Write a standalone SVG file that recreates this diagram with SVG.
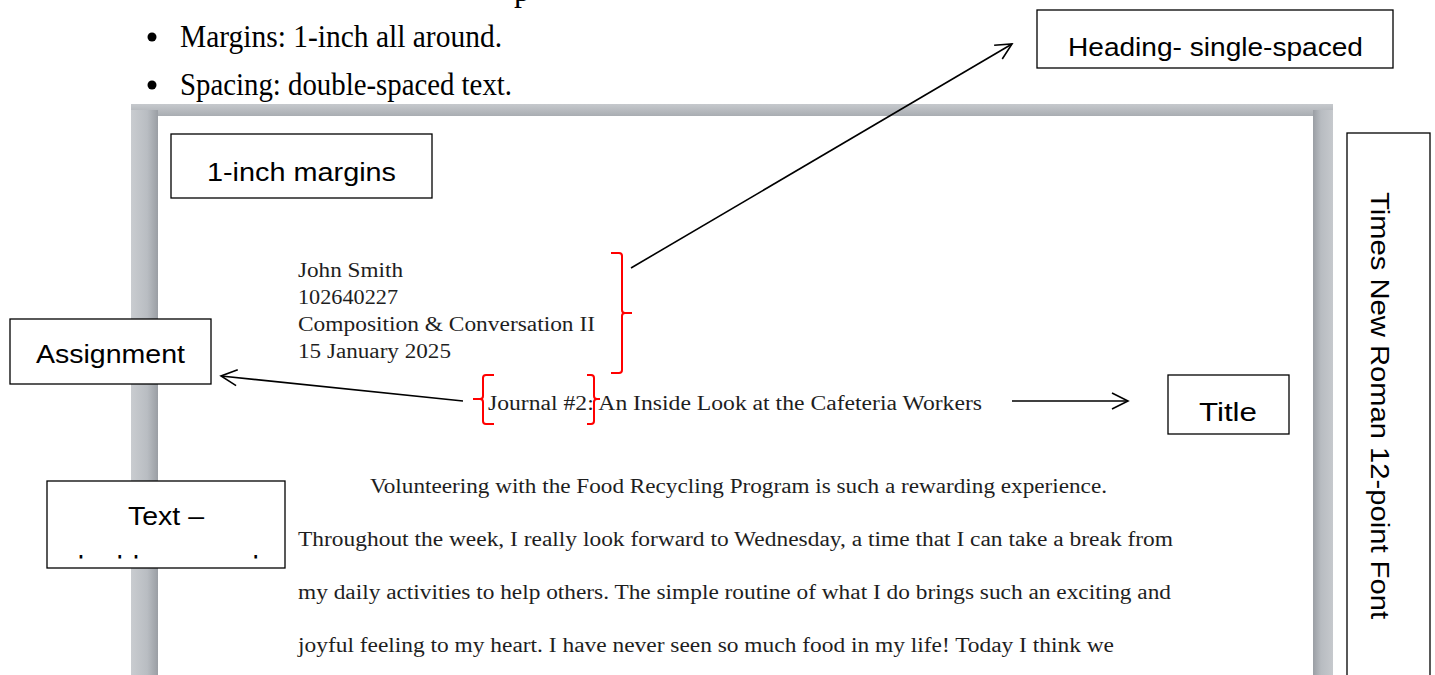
<svg xmlns="http://www.w3.org/2000/svg" width="1435" height="675" viewBox="0 0 1435 675">
<style>
.lbl{font-family:"Liberation Sans","Open Sans",sans-serif;font-size:25px;fill:#000}
.box{fill:#fff;stroke:#000;stroke-width:1.3}
.doc{font-family:"Liberation Serif","Times New Roman",serif;font-size:20px;fill:#1e1e1e}
.bul{font-family:"Liberation Serif",serif;font-size:32px;fill:#000}
.br{fill:none;stroke:#f00;stroke-width:2}
.conn{fill:none;stroke:#000;stroke-width:1.6}
</style>
<defs>
<marker id="ah" viewBox="0 0 20 20" refX="18" refY="10" markerWidth="20" markerHeight="20" markerUnits="userSpaceOnUse" orient="auto">
<path d="M2,2 L18,10 L2,18" fill="none" stroke="#000" stroke-width="1.6"/>
</marker>
<linearGradient id="gl" x1="0" x2="1" y1="0" y2="0">
<stop offset="0" stop-color="#c9ccd0"/>
<stop offset="0.6" stop-color="#b9bdc2"/>
<stop offset="1" stop-color="#9a9ea4"/>
</linearGradient>
<linearGradient id="gr" x1="0" x2="1" y1="0" y2="0">
<stop offset="0" stop-color="#9a9ea4"/>
<stop offset="0.4" stop-color="#b8bcc1"/>
<stop offset="1" stop-color="#c6c9cd"/>
</linearGradient>
<linearGradient id="gt" x1="0" x2="0" y1="0" y2="1">
<stop offset="0" stop-color="#c6c9cd"/>
<stop offset="1" stop-color="#a9adb2"/>
</linearGradient>
<clipPath id="cHead"><rect x="1037" y="10" width="356" height="51"/></clipPath>
<clipPath id="cText"><rect x="47" y="481" width="238" height="77.5"/></clipPath>
</defs>

<g id="bullets">
<text class="bul" x="514" y="1">p</text>
<circle cx="152" cy="37" r="4.5" fill="#000"/>
<text class="bul" x="180" y="47" textLength="322" lengthAdjust="spacingAndGlyphs">Margins: 1-inch all around.</text>
<circle cx="152" cy="85" r="4.5" fill="#000"/>
<text class="bul" x="180" y="95" textLength="332" lengthAdjust="spacingAndGlyphs">Spacing: double-spaced text.</text>
</g>

<g id="page">
<rect x="131" y="104" width="1202" height="571" fill="#c2c5c9"/>
<rect x="131" y="104" width="1202" height="12" fill="url(#gt)"/>
<rect x="131" y="110" width="27" height="565" fill="url(#gl)"/>
<rect x="1313" y="110" width="20" height="565" fill="url(#gr)"/>
<rect x="158" y="116" width="1155" height="559" fill="#fff"/>
<text class="doc" x="298" y="277" textLength="105" lengthAdjust="spacingAndGlyphs">John Smith</text>
<text class="doc" x="298" y="304" textLength="100" lengthAdjust="spacingAndGlyphs">102640227</text>
<text class="doc" x="298" y="331" textLength="297" lengthAdjust="spacingAndGlyphs">Composition &amp; Conversation II</text>
<text class="doc" x="298" y="358" textLength="153" lengthAdjust="spacingAndGlyphs">15 January 2025</text>
<text class="doc" x="488" y="410" textLength="494" lengthAdjust="spacingAndGlyphs">Journal #2: An Inside Look at the Cafeteria Workers</text>
<text class="doc" x="370" y="493" textLength="737" lengthAdjust="spacingAndGlyphs">Volunteering with the Food Recycling Program is such a rewarding experience.</text>
<text class="doc" x="298" y="546" textLength="875" lengthAdjust="spacingAndGlyphs">Throughout the week, I really look forward to Wednesday, a time that I can take a break from</text>
<text class="doc" x="298" y="599" textLength="873" lengthAdjust="spacingAndGlyphs">my daily activities to help others. The simple routine of what I do brings such an exciting and</text>
<text class="doc" x="298" y="652" textLength="816" lengthAdjust="spacingAndGlyphs">joyful feeling to my heart. I have never seen so much food in my life! Today I think we</text>
</g>

<g id="brackets">
<path class="br" d="M611,253 L619,253 Q622,253 622,256 L622,310 Q622,313 625,313 L632,313 M625,313 Q622,313 622,316 L622,370 Q622,373 619,373 L611,373"/>
<path class="br" d="M494,375 L486,375 Q483,375 483,378 L483,396 Q483,399 480,399 L473,399 M480,399 Q483,399 483,402 L483,421 Q483,424 486,424 L494,424"/>
<path class="br" d="M587,375 L591,375 Q594,375 594,378 L594,396 Q594,399 597,399 L600,399 M597,399 Q594,399 594,402 L594,421 Q594,424 591,424 L587,424"/>
</g>

<g id="connectors">
<line class="conn" x1="631" y1="268" x2="1012" y2="44" marker-end="url(#ah)"/>
<line class="conn" x1="1012" y1="401" x2="1128" y2="401" marker-end="url(#ah)"/>
<line class="conn" x1="463" y1="401" x2="221" y2="376" marker-end="url(#ah)"/>
</g>

<g id="heading-box">
<rect class="box" x="1037" y="10" width="356" height="58"/>
<text class="lbl" x="1068" y="56" textLength="295" lengthAdjust="spacingAndGlyphs" clip-path="url(#cHead)">Heading- single-spaced</text>
</g>

<g id="margins-box">
<rect class="box" x="171" y="134" width="261" height="64"/>
<text class="lbl" x="207" y="181" textLength="189" lengthAdjust="spacingAndGlyphs">1-inch margins</text>
</g>

<g id="assignment-box">
<rect class="box" x="10" y="319" width="201" height="65"/>
<text class="lbl" x="36" y="363" textLength="149" lengthAdjust="spacingAndGlyphs">Assignment</text>
</g>

<g id="title-box">
<rect class="box" x="1168" y="375" width="121" height="59"/>
<text class="lbl" x="1199" y="421" font-size="28" textLength="58" lengthAdjust="spacingAndGlyphs">Title</text>
</g>

<g id="text-box">
<rect class="box" x="47" y="481" width="238" height="87"/>
<g clip-path="url(#cText)">
<text class="lbl" x="128" y="525" textLength="76" lengthAdjust="spacingAndGlyphs">Text –</text>
<text class="lbl" x="68" y="574" font-size="29" textLength="191" lengthAdjust="spacingAndGlyphs">double-spaced</text>
</g>
</g>

<g id="font-box">
<rect class="box" x="1347" y="133" width="83" height="560"/>
<text class="lbl" transform="translate(1371,192) rotate(90)" x="0" y="0" font-size="28" textLength="427" lengthAdjust="spacingAndGlyphs">Times New Roman 12-point Font</text>
</g>
</svg>
